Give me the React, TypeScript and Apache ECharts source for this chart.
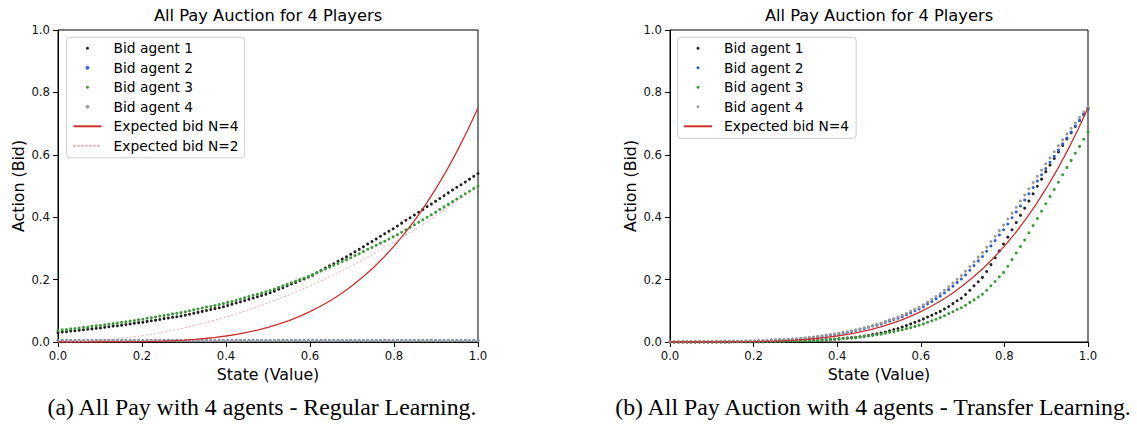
import React, { useEffect, useRef } from "react";
import * as echarts from "echarts";

// Sampled states (100 evenly spaced values on [0, 1]) shared by every agent.
const stateGrid = [
  0, 0.0101, 0.0202, 0.0303, 0.0404, 0.0505, 0.0606, 0.0707, 0.0808, 0.0909,
  0.101, 0.1111, 0.1212, 0.1313, 0.1414, 0.1515, 0.1616, 0.1717, 0.1818, 0.1919,
  0.202, 0.2121, 0.2222, 0.2323, 0.2424, 0.2525, 0.2626, 0.2727, 0.2828, 0.2929,
  0.303, 0.3131, 0.3232, 0.3333, 0.3434, 0.3535, 0.3636, 0.3737, 0.3838, 0.3939,
  0.404, 0.4141, 0.4242, 0.4343, 0.4444, 0.4545, 0.4646, 0.4747, 0.4848, 0.4949,
  0.5051, 0.5152, 0.5253, 0.5354, 0.5455, 0.5556, 0.5657, 0.5758, 0.5859, 0.596,
  0.6061, 0.6162, 0.6263, 0.6364, 0.6465, 0.6566, 0.6667, 0.6768, 0.6869, 0.697,
  0.7071, 0.7172, 0.7273, 0.7374, 0.7475, 0.7576, 0.7677, 0.7778, 0.7879, 0.798,
  0.8081, 0.8182, 0.8283, 0.8384, 0.8485, 0.8586, 0.8687, 0.8788, 0.8889, 0.899,
  0.9091, 0.9192, 0.9293, 0.9394, 0.9495, 0.9596, 0.9697, 0.9798, 0.9899, 1.0,
];

// (a) Regular learning: bids of each agent
const regularAgent1 = [
  0.030, 0.032, 0.033, 0.035, 0.036, 0.038, 0.039, 0.041, 0.042, 0.044,
  0.045, 0.047, 0.049, 0.051, 0.052, 0.054, 0.056, 0.058, 0.060, 0.062,
  0.063, 0.066, 0.068, 0.070, 0.072, 0.075, 0.077, 0.079, 0.081, 0.083,
  0.086, 0.089, 0.092, 0.095, 0.098, 0.101, 0.104, 0.107, 0.110, 0.113,
  0.117, 0.121, 0.125, 0.129, 0.133, 0.137, 0.141, 0.145, 0.149, 0.153,
  0.158, 0.163, 0.169, 0.174, 0.180, 0.186, 0.191, 0.197, 0.202, 0.208,
  0.214, 0.222, 0.229, 0.237, 0.244, 0.251, 0.259, 0.266, 0.273, 0.281,
  0.289, 0.297, 0.305, 0.314, 0.322, 0.330, 0.339, 0.347, 0.355, 0.363,
  0.372, 0.381, 0.390, 0.398, 0.407, 0.416, 0.425, 0.434, 0.442, 0.451,
  0.460, 0.469, 0.478, 0.487, 0.496, 0.504, 0.513, 0.522, 0.531, 0.540,
];
const regularAgent2 = [
  0.005, 0.005, 0.005, 0.005, 0.005, 0.005, 0.005, 0.005, 0.005, 0.005,
  0.005, 0.005, 0.005, 0.005, 0.005, 0.005, 0.005, 0.005, 0.005, 0.005,
  0.005, 0.005, 0.005, 0.005, 0.005, 0.005, 0.005, 0.005, 0.005, 0.005,
  0.005, 0.005, 0.005, 0.005, 0.005, 0.005, 0.005, 0.005, 0.005, 0.005,
  0.005, 0.005, 0.005, 0.005, 0.005, 0.005, 0.005, 0.005, 0.005, 0.005,
  0.005, 0.005, 0.005, 0.005, 0.005, 0.005, 0.005, 0.005, 0.005, 0.005,
  0.005, 0.005, 0.005, 0.005, 0.005, 0.005, 0.005, 0.005, 0.005, 0.005,
  0.005, 0.005, 0.005, 0.005, 0.005, 0.005, 0.005, 0.005, 0.005, 0.005,
  0.005, 0.005, 0.005, 0.005, 0.005, 0.005, 0.005, 0.005, 0.005, 0.005,
  0.005, 0.005, 0.005, 0.005, 0.005, 0.005, 0.005, 0.005, 0.005, 0.005,
];
const regularAgent3 = [
  0.037, 0.039, 0.040, 0.042, 0.043, 0.045, 0.047, 0.048, 0.050, 0.052,
  0.053, 0.055, 0.057, 0.059, 0.061, 0.063, 0.065, 0.067, 0.069, 0.071,
  0.073, 0.076, 0.078, 0.080, 0.083, 0.085, 0.087, 0.090, 0.092, 0.094,
  0.097, 0.100, 0.103, 0.106, 0.109, 0.112, 0.114, 0.117, 0.120, 0.123,
  0.127, 0.130, 0.134, 0.138, 0.142, 0.146, 0.150, 0.153, 0.157, 0.161,
  0.165, 0.170, 0.175, 0.180, 0.185, 0.190, 0.195, 0.200, 0.205, 0.210,
  0.216, 0.222, 0.228, 0.234, 0.240, 0.246, 0.252, 0.258, 0.264, 0.270,
  0.277, 0.283, 0.290, 0.297, 0.303, 0.310, 0.317, 0.323, 0.330, 0.337,
  0.344, 0.352, 0.360, 0.368, 0.376, 0.384, 0.392, 0.400, 0.408, 0.416,
  0.425, 0.433, 0.441, 0.450, 0.458, 0.466, 0.475, 0.483, 0.492, 0.500,
];
const regularAgent4 = [
  0.004, 0.004, 0.004, 0.004, 0.004, 0.004, 0.004, 0.004, 0.004, 0.004,
  0.004, 0.004, 0.004, 0.004, 0.004, 0.004, 0.004, 0.004, 0.004, 0.004,
  0.004, 0.004, 0.004, 0.004, 0.004, 0.004, 0.004, 0.004, 0.004, 0.004,
  0.004, 0.004, 0.004, 0.004, 0.004, 0.004, 0.004, 0.004, 0.004, 0.004,
  0.004, 0.004, 0.004, 0.004, 0.004, 0.004, 0.004, 0.004, 0.004, 0.004,
  0.004, 0.004, 0.004, 0.004, 0.004, 0.004, 0.004, 0.004, 0.004, 0.004,
  0.004, 0.004, 0.004, 0.004, 0.004, 0.004, 0.004, 0.004, 0.004, 0.004,
  0.004, 0.004, 0.004, 0.004, 0.004, 0.004, 0.004, 0.004, 0.004, 0.004,
  0.004, 0.004, 0.004, 0.004, 0.004, 0.004, 0.004, 0.004, 0.004, 0.004,
  0.004, 0.004, 0.004, 0.004, 0.004, 0.004, 0.004, 0.004, 0.004, 0.004,
];

// (b) Transfer learning: bids of each agent
const transferAgent1 = [
  0, 0, 0, 0, 0, 0, 0, 0, 0, 0,
  0, 0, 0, 0, 0, 0.001, 0.001, 0.001, 0.001, 0.001,
  0.001, 0.001, 0.001, 0.002, 0.002, 0.002, 0.002, 0.002, 0.003, 0.003,
  0.003, 0.004, 0.004, 0.004, 0.005, 0.005, 0.006, 0.007, 0.008, 0.009,
  0.010, 0.012, 0.013, 0.014, 0.015, 0.017, 0.019, 0.021, 0.024, 0.026,
  0.029, 0.032, 0.036, 0.040, 0.043, 0.048, 0.053, 0.058, 0.063, 0.068,
  0.074, 0.080, 0.086, 0.092, 0.098, 0.106, 0.114, 0.123, 0.132, 0.140,
  0.152, 0.166, 0.180, 0.193, 0.207, 0.226, 0.248, 0.270, 0.292, 0.314,
  0.336, 0.360, 0.383, 0.406, 0.429, 0.452, 0.475, 0.499, 0.522, 0.546,
  0.567, 0.588, 0.609, 0.630, 0.651, 0.671, 0.691, 0.710, 0.730, 0.750,
];
const transferAgent2 = [
  0, 0, 0, 0, 0, 0, 0.001, 0.001, 0.001, 0.001,
  0.001, 0.001, 0.001, 0.002, 0.002, 0.002, 0.002, 0.002, 0.003, 0.003,
  0.003, 0.004, 0.004, 0.005, 0.006, 0.006, 0.007, 0.007, 0.008, 0.009,
  0.009, 0.011, 0.012, 0.013, 0.014, 0.016, 0.018, 0.020, 0.022, 0.024,
  0.026, 0.029, 0.031, 0.034, 0.037, 0.040, 0.043, 0.047, 0.051, 0.054,
  0.058, 0.063, 0.067, 0.072, 0.076, 0.081, 0.087, 0.093, 0.100, 0.106,
  0.113, 0.122, 0.130, 0.139, 0.147, 0.157, 0.168, 0.179, 0.191, 0.202,
  0.215, 0.230, 0.245, 0.260, 0.274, 0.291, 0.308, 0.325, 0.343, 0.360,
  0.378, 0.398, 0.417, 0.436, 0.455, 0.475, 0.495, 0.516, 0.536, 0.556,
  0.576, 0.595, 0.615, 0.635, 0.654, 0.673, 0.692, 0.710, 0.728, 0.745,
];
const transferAgent3 = [
  0, 0, 0, 0, 0, 0, 0, 0, 0, 0,
  0, 0, 0, 0, 0, 0.001, 0.001, 0.001, 0.001, 0.001,
  0.001, 0.001, 0.001, 0.002, 0.002, 0.002, 0.002, 0.002, 0.003, 0.003,
  0.003, 0.004, 0.004, 0.004, 0.005, 0.005, 0.006, 0.007, 0.008, 0.009,
  0.010, 0.011, 0.012, 0.013, 0.014, 0.016, 0.018, 0.019, 0.021, 0.023,
  0.025, 0.028, 0.031, 0.033, 0.036, 0.039, 0.043, 0.046, 0.050, 0.054,
  0.058, 0.063, 0.068, 0.073, 0.078, 0.084, 0.091, 0.097, 0.104, 0.110,
  0.118, 0.127, 0.135, 0.144, 0.153, 0.166, 0.180, 0.194, 0.209, 0.223,
  0.243, 0.264, 0.285, 0.306, 0.327, 0.350, 0.373, 0.396, 0.419, 0.443,
  0.466, 0.489, 0.512, 0.536, 0.559, 0.582, 0.605, 0.627, 0.650, 0.673,
];
const transferAgent4 = [
  0, 0, 0, 0, 0, 0, 0.001, 0.001, 0.001, 0.001,
  0.001, 0.001, 0.001, 0.002, 0.002, 0.002, 0.002, 0.002, 0.003, 0.003,
  0.003, 0.004, 0.005, 0.005, 0.006, 0.007, 0.007, 0.008, 0.009, 0.010,
  0.010, 0.012, 0.013, 0.015, 0.016, 0.018, 0.020, 0.022, 0.024, 0.026,
  0.028, 0.031, 0.033, 0.036, 0.039, 0.042, 0.046, 0.049, 0.053, 0.057,
  0.061, 0.066, 0.071, 0.075, 0.080, 0.086, 0.092, 0.099, 0.105, 0.111,
  0.119, 0.128, 0.137, 0.146, 0.155, 0.166, 0.177, 0.189, 0.201, 0.213,
  0.227, 0.242, 0.257, 0.272, 0.287, 0.304, 0.322, 0.339, 0.357, 0.375,
  0.394, 0.413, 0.432, 0.452, 0.471, 0.491, 0.511, 0.531, 0.551, 0.571,
  0.590, 0.610, 0.629, 0.648, 0.667, 0.685, 0.702, 0.720, 0.737, 0.755,
];

// Theoretical equilibrium bid curves, sampled every 0.025
const curveStates = [
  0, 0.025, 0.05, 0.075, 0.1, 0.125, 0.15, 0.175, 0.2, 0.225,
  0.25, 0.275, 0.3, 0.325, 0.35, 0.375, 0.4, 0.425, 0.45, 0.475,
  0.5, 0.525, 0.55, 0.575, 0.6, 0.625, 0.65, 0.675, 0.7, 0.725,
  0.75, 0.775, 0.8, 0.825, 0.85, 0.875, 0.9, 0.925, 0.95, 0.975, 1.0,
];
const expectedBidN4 = [
  0, 0.0000003, 0.000005, 0.0000237, 0.000075, 0.000183, 0.00038, 0.000703, 0.0012, 0.001922,
  0.00293, 0.004289, 0.00608, 0.008368, 0.01126, 0.014832, 0.0192, 0.024469, 0.03075, 0.03818,
  0.0469, 0.056977, 0.0686, 0.081985, 0.0972, 0.114441, 0.1339, 0.155695, 0.1801, 0.207211,
  0.2373, 0.270563, 0.3072, 0.347437, 0.3915, 0.439636, 0.4921, 0.54907, 0.6109, 0.677766, 0.75,
];
const expectedBidN2 = [
  0, 0.0003125, 0.00125, 0.0028125, 0.005, 0.0078125, 0.01125, 0.0153125, 0.02, 0.0253125,
  0.03125, 0.0378125, 0.045, 0.0528125, 0.06125, 0.0703125, 0.08, 0.0903125, 0.10125, 0.1128125,
  0.125, 0.1378125, 0.15125, 0.1653125, 0.18, 0.1953125, 0.21125, 0.2278125, 0.245, 0.2628125,
  0.28125, 0.3003125, 0.32, 0.3403125, 0.36125, 0.3828125, 0.405, 0.4278125, 0.45125, 0.4753125, 0.5,
];

const agentNames = ["Bid agent 1", "Bid agent 2", "Bid agent 3", "Bid agent 4"];
const curveNames = ["Expected bid N=4", "Expected bid N=2"];
const panelTitle = "All Pay Auction for 4 Players";
const xAxisName = "State (Value)";
const yAxisName = "Action (Bid)";
const captions = [
  "(a) All Pay with 4 agents - Regular Learning.",
  "(b) All Pay Auction with 4 agents - Transfer Learning.",
];

const SANS = '"DejaVu Sans", Verdana, sans-serif';
const SERIF = '"Liberation Serif", "Times New Roman", serif';
const COLORS = {
  agent1: "#222222",
  agent2: "#2b5fd0",
  agent3: "#3a9a3a",
  agent4: "#9a9a9a",
  n4: "#c9302c",
  n2: "#eaa0a0",
};

const PANELS = [
  { left: 58, width: 420, legendLeft: 66.7 },
  { left: 670, width: 418, legendLeft: 677.7 },
];
const GRID_TOP = 30;
const GRID_HEIGHT = 312;

function buildOption(): echarts.EChartsOption {
  const grids = PANELS.map((p) => ({
    left: p.left,
    top: GRID_TOP,
    width: p.width,
    height: GRID_HEIGHT,
    show: true,
    borderColor: "#000",
    borderWidth: 1,
    backgroundColor: "transparent",
    containLabel: false,
  }));

  const tickFmt = (v: number) => v.toFixed(1);

  const axisCommon = (gi: number, name: string, nameGap: number) => ({
    type: "value" as const,
    gridIndex: gi,
    min: 0,
    max: 1,
    interval: 0.2,
    name,
    nameLocation: "middle" as const,
    nameGap,
    nameTextStyle: { fontFamily: SANS, fontSize: 15.8, color: "#000" },
    axisLine: { show: true, lineStyle: { color: "#000", width: 1 } },
    axisTick: { show: true, inside: false, length: 5, lineStyle: { color: "#000", width: 1 } },
    axisLabel: { show: true, margin: 8, fontFamily: SANS, fontSize: 11.7, color: "#111", formatter: tickFmt },
    splitLine: { show: false },
  });

  const xAxes = PANELS.map((_, gi) => axisCommon(gi, xAxisName, 24));
  const yAxes = PANELS.map((_, gi) => axisCommon(gi, yAxisName, 32));

  const scatter = (name: string, ys: number[], color: string, gi: number, size: number) => ({
    type: "scatter" as const,
    name,
    xAxisIndex: gi,
    yAxisIndex: gi,
    data: stateGrid.map((x, i) => [x, ys[i]]),
    symbol: "circle",
    symbolSize: size,
    itemStyle: { color, opacity: 1 },
    silent: true,
    emphasis: { disabled: true },
  });

  const curve = (name: string, ys: number[], color: string, gi: number, width: number, dash: any) => ({
    type: "line" as const,
    name,
    xAxisIndex: gi,
    yAxisIndex: gi,
    data: curveStates.map((x, i) => [x, ys[i]]),
    symbol: "none",
    showSymbol: false,
    smooth: false,
    lineStyle: { color, width, type: dash },
    itemStyle: { color },
    silent: true,
    emphasis: { disabled: true },
  });

  const series: any[] = [
    scatter(agentNames[0], regularAgent1, COLORS.agent1, 0, 3),
    scatter(agentNames[1], regularAgent2, COLORS.agent2, 0, 3),
    scatter(agentNames[2], regularAgent3, COLORS.agent3, 0, 3),
    scatter(agentNames[3], regularAgent4, COLORS.agent4, 0, 3),
    curve(curveNames[0], expectedBidN4, COLORS.n4, 0, 1.3, "solid"),
    curve(curveNames[1], expectedBidN2, COLORS.n2, 0, 0.9, [2, 2]),
    scatter(agentNames[0], transferAgent1, COLORS.agent1, 1, 3),
    scatter(agentNames[1], transferAgent2, COLORS.agent2, 1, 3),
    scatter(agentNames[2], transferAgent3, COLORS.agent3, 1, 3),
    scatter(agentNames[3], transferAgent4, COLORS.agent4, 1, 3),
    curve(curveNames[0], expectedBidN4, COLORS.n4, 1, 1.3, "solid"),
  ];

  const legendBase = {
    orient: "vertical" as const,
    top: 37.3,
    itemWidth: 28,
    itemHeight: 3,
    itemGap: 3.5,
    backgroundColor: "rgba(255,255,255,0.8)",
    borderColor: "#cccccc",
    borderWidth: 1,
    borderRadius: 3,
    selectedMode: false as const,
    textStyle: { fontFamily: SANS, fontSize: 13.8, color: "#000", lineHeight: 16, padding: [0, 0, 0, 7] },
  };

  // Larger legend dot for the agents drawn with bigger markers
  const bigDot = (name: string, color: string) => ({
    name,
    itemStyle: { borderWidth: 1, borderColor: color },
  });
  // Plain line key (marker hidden) for the expected-bid curves
  const lineKey = (name: string) => ({ name, itemStyle: { opacity: 0 } });

  const legends = [
    {
      ...legendBase,
      left: PANELS[0].legendLeft,
      padding: [3, 6, 4, 5.8],
      data: [
        agentNames[0],
        bigDot(agentNames[1], COLORS.agent2),
        agentNames[2],
        bigDot(agentNames[3], COLORS.agent4),
        lineKey(curveNames[0]),
        lineKey(curveNames[1]),
      ],
    },
    {
      ...legendBase,
      left: PANELS[1].legendLeft,
      padding: [3, 7, 4, 5.3],
      data: [agentNames[0], agentNames[1], agentNames[2], agentNames[3], lineKey(curveNames[0])],
    },
  ];

  const titles = PANELS.map((p) => ({
    text: panelTitle,
    left: p.left + p.width / 2,
    top: 7,
    padding: 0,
    textAlign: "center" as const,
    textStyle: { fontFamily: SANS, fontSize: 16.3, fontWeight: "normal" as const, color: "#000" },
  }));

  const captionCenters = [262, 873];
  const graphic = captions.map((text, i) => ({
    type: "text" as const,
    x: captionCenters[i],
    y: 407,
    silent: true,
    style: {
      text,
      fontFamily: SERIF,
      fontSize: 23.8,
      fill: "#000",
      align: "center",
      verticalAlign: "middle",
    },
  }));

  return {
    animation: false,
    backgroundColor: "#ffffff",
    title: titles,
    grid: grids,
    xAxis: xAxes,
    yAxis: yAxes,
    legend: legends,
    series,
    graphic,
  } as any;
}

export default function App() {
  const ref = useRef<HTMLDivElement>(null);

  useEffect(() => {
    if (!ref.current) return;
    const chart = echarts.init(ref.current, undefined, { renderer: "svg" });
    chart.setOption(buildOption());
    return () => {
      chart.dispose();
    };
  }, []);

  return (
    <div
      ref={ref}
      style={{ position: "absolute", left: 0, top: 0, width: 1137, height: 428, background: "#fff" }}
    />
  );
}
